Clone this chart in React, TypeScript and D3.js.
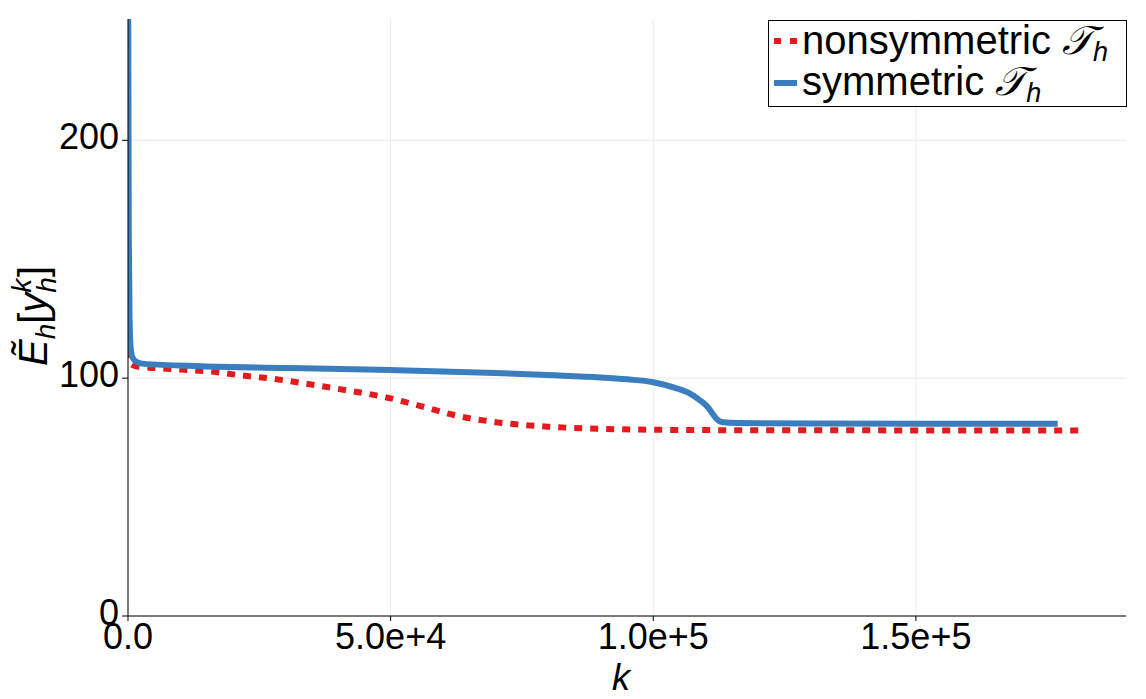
import React from "react";
import * as d3 from "d3";

const xTicks = [0, 50000, 100000, 150000];
const xTickLabels = ["0.0", "5.0e+4", "1.0e+5", "1.5e+5"];
const yTicks = [0, 100, 200];
const yTickLabels = ["0", "100", "200"];

const symK = [0, 50, 150, 300, 500, 800, 1500, 3000, 14000, 30000, 50000, 70000, 80000, 90000, 95000, 100000, 104000, 107000, 109000, 110500, 111300, 112000, 113000, 116000, 130000, 177000];
const symE = [420, 250, 160, 125, 113, 109, 107, 106, 105, 104.3, 103.4, 102.2, 101.3, 100.3, 99.5, 98.3, 96, 93.5, 90.5, 87.5, 85, 83, 81.6, 81.1, 80.9, 80.8];

const nonK = [0, 200, 500, 2000, 5000, 10000, 17000, 21000, 27000, 33000, 40000, 50000, 57000, 62000, 70000, 80000, 90000, 100000, 120000, 181000];
const nonE = [112, 108, 106, 104.8, 104.3, 103.6, 102.5, 101.3, 99.9, 98, 95.5, 91.5, 87.5, 84.5, 81.5, 79.6, 78.7, 78.3, 78.1, 78];

const legendLabels = ["nonsymmetric ", "symmetric "];

const RED = "#e41a1c";
const BLUE = "#3a7ebf";
const FONT = "'Liberation Sans', Arial, sans-serif";

export default function App() {
  const W = 1146, H = 699;
  const left = 128, right = 1126, top = 19, bottom = 616;
  const x = d3.scaleLinear().domain([0, 190000]).range([left, right]);
  const y = d3.scaleLinear().domain([0, 251]).range([bottom, top]);
  const symPts = symK.map((k, i) => [k, symE[i]] as [number, number]);
  const nonPts = nonK.map((k, i) => [k, nonE[i]] as [number, number]);
  const mk = d3.line<[number, number]>().x(d => x(d[0])).y(d => y(d[1])).curve(d3.curveMonotoneX);
  const symPath = mk(symPts) || "";
  const nonPath = mk(nonPts) || "";

  return (
    <svg width={W} height={H} style={{ position: "absolute", left: 0, top: 0, background: "#fff" }} fontFamily={FONT}>
      <defs>
        <clipPath id="plotclip">
          <rect x={left} y={top} width={right - left} height={bottom - top} />
        </clipPath>
      </defs>
      <rect x={0} y={0} width={W} height={H} fill="#fff" />
      {/* grid */}
      {xTicks.map(t => (
        <line key={"gx" + t} x1={x(t)} x2={x(t)} y1={top} y2={bottom} stroke="#ebebeb" strokeWidth={1} />
      ))}
      {yTicks.map(t => (
        <line key={"gy" + t} x1={left} x2={right} y1={y(t)} y2={y(t)} stroke="#ebebeb" strokeWidth={1} />
      ))}
      {/* series */}
      <g clipPath="url(#plotclip)">
        <path d={nonPath} fill="none" stroke={RED} strokeWidth={6} strokeDasharray="8,8" />
        <path d={symPath} fill="none" stroke={BLUE} strokeWidth={6} strokeLinejoin="round" />
      </g>
      {/* axes */}
      <line x1={left} x2={right} y1={bottom} y2={bottom} stroke="#000" strokeWidth={1} />
      <line x1={left} x2={left} y1={top} y2={bottom} stroke="#000" strokeWidth={1} />
      {xTicks.map((t, i) => (
        <g key={"xt" + t}>
          <line x1={x(t)} x2={x(t)} y1={bottom} y2={bottom + 5} stroke="#000" strokeWidth={1} />
          <text x={x(t)} y={649} textAnchor="middle" fontSize={36} fill="#000">{xTickLabels[i]}</text>
        </g>
      ))}
      {yTicks.map((t, i) => (
        <g key={"yt" + t}>
          <line x1={left - 6} x2={left} y1={y(t)} y2={y(t)} stroke="#000" strokeWidth={1} />
          <text x={119} y={y(t) + 9} textAnchor="end" fontSize={36} fill="#000">{yTickLabels[i]}</text>
        </g>
      ))}
      {/* axis labels */}
      <text x={621} y={690} textAnchor="middle" fontSize={36} fontStyle="italic" fill="#000">k</text>
      <text transform="translate(47,316) rotate(-90)" textAnchor="middle" fontSize={40} fill="#000">
        <tspan fontStyle="italic">{"Ẽ"}</tspan>
        <tspan fontStyle="italic" fontSize={28} dy={8}>h</tspan>
        <tspan dy={-8}>[</tspan>
        <tspan fontStyle="italic">y</tspan>
        <tspan fontStyle="italic" fontSize={28} dy={-16}>k</tspan>
        <tspan fontStyle="italic" fontSize={28} dx={-14} dy={25}>h</tspan>
        <tspan dy={-9}>]</tspan>
      </text>
      {/* legend */}
      <rect x={768.5} y={20.5} width={358} height={86} fill="#fff" stroke="#000" strokeWidth={1} />
      <line x1={774} x2={798} y1={41} y2={41} stroke={RED} strokeWidth={6} strokeDasharray="7,9" />
      <line x1={774} x2={797} y1={83} y2={83} stroke={BLUE} strokeWidth={6} />
      {legendLabels.map((lab, i) => (
        <text key={lab} x={802} y={54 + i * 41} fontSize={40} fill="#000">
          {lab}
          <tspan fontStyle="italic" fontFamily="'DejaVu Serif', serif">{"𝒯"}</tspan>
          <tspan fontStyle="italic" fontSize={27} dy={7}>h</tspan>
        </text>
      ))}
    </svg>
  );
}
